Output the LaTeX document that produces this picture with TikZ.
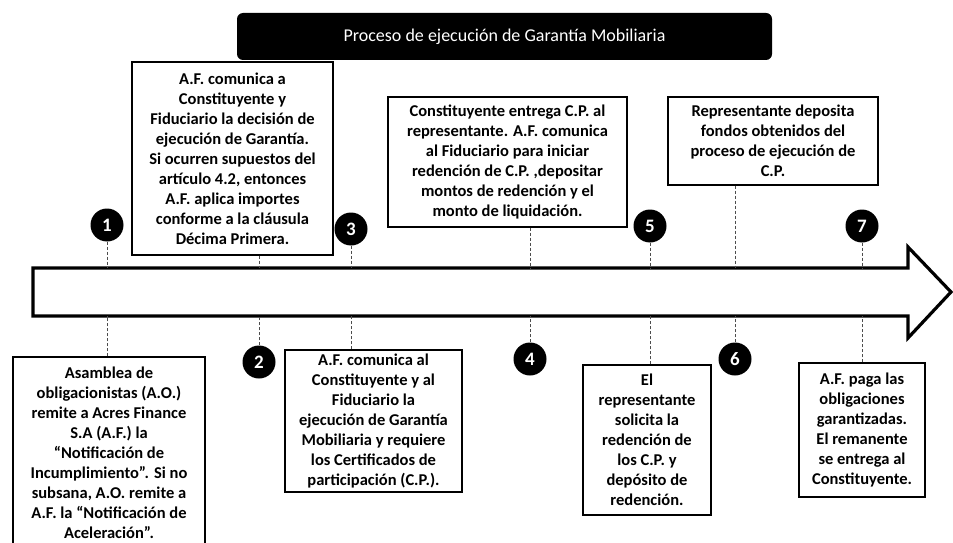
\documentclass[tikz,border=0pt]{standalone}
\usepackage{fontspec}
\setmainfont{Carlito}
\usetikzlibrary{positioning}
\usetikzlibrary{calc}

\begin{document}
\begin{tikzpicture}[
        x = 1pt, y = -1pt,
        titulo/.style = {rectangle, rounded corners = 6pt, fill = black, text = white,
                         minimum width = 535pt, minimum height = 47pt,
                         font = \fontsize{18}{21}\selectfont},
        caja/.style = {draw, rectangle, line width = 1.3pt, fill = white, align = center,
                       inner sep = 0pt, font = \bfseries\fontsize{16.5}{20}\selectfont},
        numero/.style = {circle, fill = black, text = white, minimum size = 33pt,
                         inner sep = 0pt, font = \bfseries\fontsize{19}{22}\selectfont},
        flecha/.style = {draw, line width = 3.2pt, line join = miter},
        enlace/.style = {draw, line width = 0.8pt, densely dashed, black!70},
        ]
    \useasboundingbox (0,0) rectangle (953,543);

    \node[titulo] (titulo) at (504.5,36.5) {Proceso de ejecución de Garantía Mobiliaria};

    % flecha principal
    \coordinate (arriba) at (33,268);
    \coordinate (abajo) at (33,316);
    \draw[flecha] (arriba) -- (908,268) -- (908,247) -- (951,292) -- (908,338)
        -- (908,316) -- (abajo) -- cycle;

    % pasos
    \node[caja, minimum width = 192pt, minimum height = 192pt] (paso1) at (109,453)
        {Asamblea de\\ obligacionistas (A.O.)\\ remite a Acres Finance\\ S.A (A.F.) la\\
         “Notificación de\\ Incumplimiento”. Si no\\ subsana, A.O. remite a\\
         A.F. la “Notificación de\\ Aceleración”.};
    \node[caja, minimum width = 201pt, minimum height = 193pt] (paso2) at (232.5,158.5)
        {A.F. comunica a\\ Constituyente y\\ Fiduciario la decisión de\\ ejecución de Garantía.\\
         Si ocurren supuestos del\\ artículo 4.2, entonces\\ A.F. aplica importes\\
         conforme a la cláusula\\ Décima Primera.};
    \node[caja, minimum width = 177pt, minimum height = 142pt] (paso3) at (373.5,421)
        {A.F. comunica al\\ Constituyente y al\\ Fiduciario la\\ ejecución de Garantía\\
         Mobiliaria y requiere\\ los Certificados de\\ participación (C.P.).};
    \node[caja, minimum width = 239pt, minimum height = 130pt] (paso4) at (507.5,162)
        {Constituyente entrega C.P. al\\ representante. A.F. comunica\\ al Fiduciario para iniciar\\
         redención de C.P. ,depositar\\ montos de redención y el\\ monto de liquidación.};
    \node[caja, minimum width = 128pt, minimum height = 150pt] (paso5) at (647,440)
        {El\\ representante\\ solicita la\\ redención de\\ los C.P. y\\ depósito de\\ redención.};
    \node[caja, minimum width = 210pt, minimum height = 88pt] (paso6) at (773,141)
        {Representante deposita\\ fondos obtenidos del\\ proceso de ejecución de\\ C.P.};
    \node[caja, minimum width = 126pt, minimum height = 134pt] (paso7) at (862,430)
        {A.F. paga las\\ obligaciones\\ garantizadas.\\ El remanente\\ se entrega al\\ Constituyente.};

    % numeros
    \node[numero] (n1) at (107,225) {1};
    \node[numero] (n2) at (259,362) {2};
    \node[numero] (n3) at (351,229) {3};
    \node[numero] (n4) at (530,359) {4};
    \node[numero] (n5) at (650,226) {5};
    \node[numero] (n6) at (735,359) {6};
    \node[numero] (n7) at (862,226) {7};

    % enlaces con la flecha
    \draw[enlace] (n1) -- (n1 |- arriba);
    \draw[enlace] (paso1.north -| n1) -- (n1 |- abajo);
    \draw[enlace] (paso2.south -| n2) -- (n2 |- arriba);
    \draw[enlace] (n2) -- (n2 |- abajo);
    \draw[enlace] (n3) -- (n3 |- arriba);
    \draw[enlace] (paso3.north -| n3) -- (n3 |- abajo);
    \draw[enlace] (paso4.south -| n4) -- (n4 |- arriba);
    \draw[enlace] (n4) -- (n4 |- abajo);
    \draw[enlace] (n5) -- (n5 |- arriba);
    \draw[enlace] (paso5.north -| n5) -- (n5 |- abajo);
    \draw[enlace] (paso6.south -| n6) -- (n6 |- arriba);
    \draw[enlace] (n6) -- (n6 |- abajo);
    \draw[enlace] (n7) -- (n7 |- arriba);
    \draw[enlace] (paso7.north -| n7) -- (n7 |- abajo);
\end{tikzpicture}
\end{document}
